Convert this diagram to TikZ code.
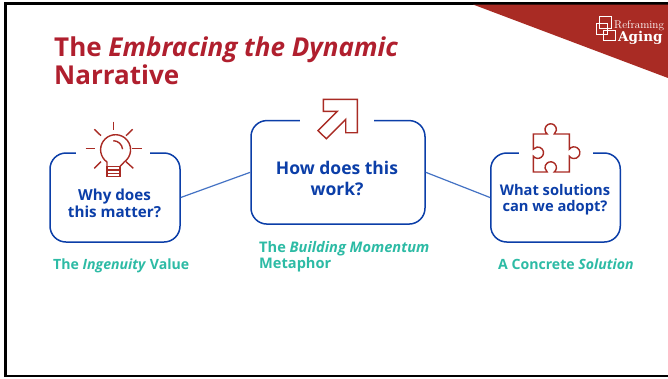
\documentclass[tikz,border=0pt]{standalone}
\usepackage{fontspec}
\newfontfamily\osf{Open Sans}
\newfontfamily\logoslab{DejaVu Serif}
\definecolor{ttl}{HTML}{B01F2E}
\definecolor{brick}{HTML}{A92B24}
\definecolor{navy}{HTML}{0B3EA8}
\definecolor{teal1}{HTML}{2DBBA5}
\definecolor{conn}{HTML}{4472C4}
\tikzset{
  qbox/.style={draw=navy,line width=1.5pt,rounded corners=16pt,fill=white,inner sep=0pt,anchor=center},
  gapfill/.style={fill=white,draw=none},
  link/.style={draw=conn,line width=1.2pt},
  icon/.style={draw=brick,line width=1.4pt,line join=miter},
  qtext/.style={text=navy,align=center,anchor=center,inner sep=0pt,font=\osf\bfseries},
  lab/.style={text=teal1,align=left,anchor=base west,inner sep=0pt,font=\osf\bfseries\fontsize{14.1}{14}\selectfont},
  labw/.style={lab,font=\osf\bfseries\fontsize{14.6}{14}\selectfont},
  titletext/.style={text=ttl,anchor=base west,inner sep=0pt,font=\osf\bfseries\fontsize{26}{26}\selectfont},
}
\begin{document}
\begin{tikzpicture}[x=1pt,y=1pt,yscale=-1]
\useasboundingbox (0,0) rectangle (668,378);
\fill[white] (0,0) rectangle (668,378);
% frame
\fill[black] (4,2) rectangle (668,4.5);
\fill[black] (4,2) rectangle (7,377);
\fill[black] (4,374.8) rectangle (668,377);
% banner
\fill[brick] (473,4.5) -- (668,4.5) -- (668,78) -- cycle;
% logo
\draw[white,line width=0.8pt] (599.5,16) rectangle (611.5,28);
\draw[white,line width=0.8pt] (596,23.5) rectangle (607.5,34.5);
\draw[white,line width=0.8pt] (603.5,30) rectangle (615,40.5);
\node[text=white,anchor=base west,inner sep=0pt,font=\fontsize{11.2}{11}\selectfont] (lg1) at (614,28) {Reframing};
\node[text=white,anchor=base west,inner sep=0pt,font=\logoslab\bfseries\fontsize{13.5}{14}\selectfont] (lg2) at (618,41) {Aging};
% title
\node[titletext] (t1) at (54,56) {The \textit{Embracing the Dynamic}};
\node[titletext] (t2) at (54,84) {Narrative};
% boxes
\node[qbox,minimum width=130pt,minimum height=89pt] (a) at (115,197.5) {};
\node[qbox,minimum width=174pt,minimum height=103.5pt] (b) at (338,172.3) {};
\node[qbox,minimum width=129.5pt,minimum height=89pt] (c) at (555.5,197.5) {};
\coordinate (ag) at (113,153);
\coordinate (bg) at (337,120.5);
\coordinate (cg) at (555.5,153);
\fill[gapfill] ([shift={(-37,-3)}]ag) rectangle ([shift={(37,3)}]ag);
\fill[gapfill] ([shift={(-37,-3)}]bg) rectangle ([shift={(37,3)}]bg);
\fill[gapfill] ([shift={(-37,-3)}]cg) rectangle ([shift={(37,3)}]cg);
% connectors
\draw[link] (a.east) -- (b.west);
\draw[link] (b.east) -- (c.west);
% box text
\node[qtext,font=\osf\bfseries\fontsize{15.2}{16.8}\selectfont] (ta) at (114.5,203) {Why does\\this matter?};
\node[qtext,font=\osf\bfseries\fontsize{17.5}{21}\selectfont] (tb) at (337,178) {How does this\\work?};
\node[qtext,font=\osf\bfseries\fontsize{14.7}{16}\selectfont] (tc) at (555,200) {What solutions\\can we adopt?};
% labels
\node[lab] (la) at (53,269) {The \textit{Ingenuity} Value};
\node[labw] (lb1) at (259,252) {The \textit{Building Momentum}};
\node[labw] (lb2) at (259,268) {Metaphor};
\node[lab] (lc) at (498,269) {A Concrete \textit{Solution}};
% bulb
\draw[icon] (107,166.5) -- (107,162) arc[start angle=125,end angle=415,radius=15] -- (120,166.5);
\draw[icon] (107,166.5) rectangle (120,176.5);
\draw[icon] (107,170) -- (120,170) (107,173.5) -- (120,173.5);
\draw[icon] (113.3,140.7) arc[start angle=-90,end angle=-5,radius=9.3];
\draw[icon] (113.3,121.5) -- (113.3,130);
\draw[icon] (85.5,148.7) -- (95,148.7) (131.7,148.7) -- (141.5,148.7);
\draw[icon] (94.3,129.3) -- (101,135.7) (132.7,129.3) -- (126,135.7);
\draw[icon] (94.3,168.3) -- (101,161.7) (133.3,168.3) -- (126,161.7);
% arrow
\draw[icon] (323.3,99.3) -- (357.3,99.3) -- (357.3,132.7) -- (345.7,132.7) -- (345.7,119.3) -- (326.3,138.7) -- (318,130.7) -- (337.3,111.3) -- (323.3,111.3) -- cycle;
% puzzle
\draw[icon] (533.3,134) -- (547.2,134) arc[start angle=128,end angle=412,radius=5.7]
  -- (569.3,134) -- (569.3,149.2) arc[start angle=216.7,end angle=503.3,radius=5.86]
  -- (569.3,172) -- (554.2,172) arc[start angle=52,end angle=-232,radius=5.7]
  -- (533.3,172) -- (533.3,156.2) arc[start angle=142.1,end angle=-142.1,radius=5.7] -- cycle;
\end{tikzpicture}
\end{document}
